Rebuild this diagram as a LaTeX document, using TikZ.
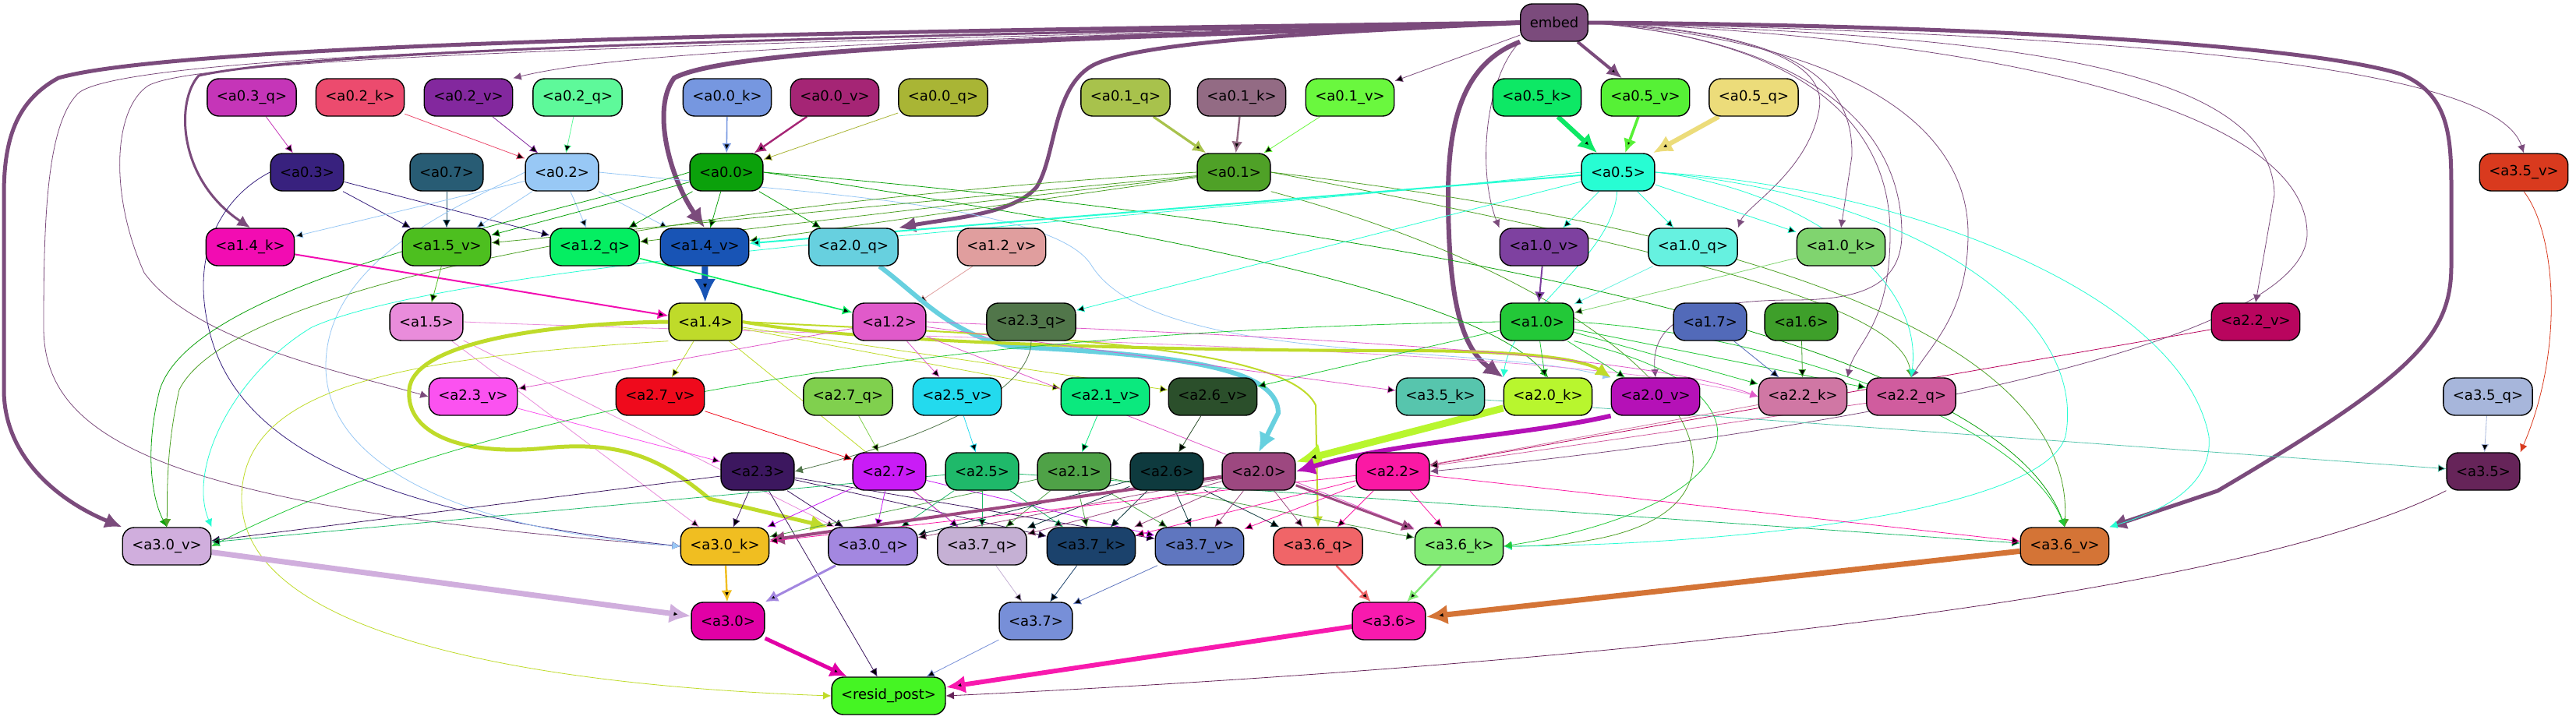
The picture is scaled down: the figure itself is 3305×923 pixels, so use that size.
\documentclass[tikz,border=0pt]{standalone}
\usepackage{fontspec}
\setmainfont{DejaVu Sans}
\usetikzlibrary{arrows.meta}
\pgfdeclarelayer{edges}
\pgfsetlayers{edges,main}
\definecolor{cembed}{HTML}{7B4B7C}
\definecolor{ca03q}{HTML}{C535B8}\definecolor{ca02k}{HTML}{EC4B6E}\definecolor{ca02v}{HTML}{83289E}
\definecolor{ca02q}{HTML}{5EF99A}\definecolor{ca00k}{HTML}{7697E0}\definecolor{ca00v}{HTML}{A52575}
\definecolor{ca00q}{HTML}{A9B535}\definecolor{ca01q}{HTML}{A8C24C}\definecolor{ca01k}{HTML}{936B84}
\definecolor{ca01v}{HTML}{6AF83E}\definecolor{ca05k}{HTML}{0DE865}\definecolor{ca05v}{HTML}{56F136}
\definecolor{ca05q}{HTML}{ECDC7A}\definecolor{ca35v}{HTML}{D93A1E}
\definecolor{ca03}{HTML}{38217E}\definecolor{ca07}{HTML}{285C74}\definecolor{ca02}{HTML}{98C8F5}
\definecolor{ca00}{HTML}{0BA10B}\definecolor{ca01}{HTML}{4FA127}\definecolor{ca05}{HTML}{27FDD3}
\definecolor{ca14k}{HTML}{F20CB2}\definecolor{ca15v}{HTML}{4DBF1F}\definecolor{ca12q}{HTML}{05EE62}
\definecolor{ca14v}{HTML}{1854B5}\definecolor{ca20q}{HTML}{67D0DF}\definecolor{ca12v}{HTML}{E09E9E}
\definecolor{ca10v}{HTML}{7E41A0}\definecolor{ca10q}{HTML}{66F1E0}\definecolor{ca10k}{HTML}{80D46F}
\definecolor{ca15}{HTML}{E98CDB}\definecolor{ca14}{HTML}{BFDB2A}\definecolor{ca12}{HTML}{E05ACA}
\definecolor{ca23q}{HTML}{51764A}\definecolor{ca10}{HTML}{23C838}\definecolor{ca17}{HTML}{526AB9}
\definecolor{ca16}{HTML}{3E9F2A}\definecolor{ca22v}{HTML}{B9055E}
\definecolor{ca23v}{HTML}{FB52F0}\definecolor{ca27v}{HTML}{EF0A1C}\definecolor{ca27q}{HTML}{80D04E}
\definecolor{ca25v}{HTML}{23DAEE}\definecolor{ca21v}{HTML}{0BE97E}\definecolor{ca26v}{HTML}{2B4F2B}
\definecolor{ca35k}{HTML}{57C5AD}\definecolor{ca20k}{HTML}{B8F62E}\definecolor{ca20v}{HTML}{B511B7}
\definecolor{ca22k}{HTML}{D077A4}\definecolor{ca22q}{HTML}{D05C9E}\definecolor{ca35q}{HTML}{A7B6DB}
\definecolor{ca23}{HTML}{3C175F}\definecolor{ca27}{HTML}{C91CF6}\definecolor{ca25}{HTML}{1FB96A}
\definecolor{ca21}{HTML}{4FA247}\definecolor{ca26}{HTML}{0E3A3E}\definecolor{ca20}{HTML}{9D4880}
\definecolor{ca22}{HTML}{FA19A4}\definecolor{ca35}{HTML}{662459}
\definecolor{ca30v}{HTML}{D0AEDD}\definecolor{ca30k}{HTML}{F0BE21}\definecolor{ca30q}{HTML}{A387E0}
\definecolor{ca37q}{HTML}{C5B0D4}\definecolor{ca37k}{HTML}{1B426C}\definecolor{ca37v}{HTML}{5F76BF}
\definecolor{ca36q}{HTML}{F06568}\definecolor{ca36k}{HTML}{83EB75}\definecolor{ca36v}{HTML}{D47436}
\definecolor{ca30}{HTML}{E100A6}\definecolor{ca37}{HTML}{778FD8}\definecolor{ca36}{HTML}{F81AAE}
\definecolor{cresid}{HTML}{45F523}
\tikzset{nd/.style = {draw=black, fill=#1, rounded corners=7.5pt, minimum height=24pt, inner xsep=6pt, line width=0.7pt, font=\fontsize{9}{11}\selectfont}}

\begin{document}
\begin{tikzpicture}[x=0.5pt, y=-0.5pt, >={Latex[length=4pt 2.8, width=4pt 2.5]}, line width=0.6pt]
  \useasboundingbox (0,0) rectangle (3305,923);

  % layer 0
  \node [nd=cembed] (embed) at (1994,29) {embed};
  \node [nd=ca03q] (a03q) at (323,125) {<a0.3\_q>};
  \node [nd=ca02k] (a02k) at (462,125) {<a0.2\_k>};
  \node [nd=ca02v] (a02v) at (601,125) {<a0.2\_v>};
  \node [nd=ca02q] (a02q) at (741,125) {<a0.2\_q>};
  \node [nd=ca00k] (a00k) at (933,125) {<a0.0\_k>};
  \node [nd=ca00v] (a00v) at (1071,125) {<a0.0\_v>};
  \node [nd=ca00q] (a00q) at (1210,125) {<a0.0\_q>};
  \node [nd=ca01q] (a01q) at (1444,125) {<a0.1\_q>};
  \node [nd=ca01k] (a01k) at (1593,125) {<a0.1\_k>};
  \node [nd=ca01v] (a01v) at (1732,125) {<a0.1\_v>};
  \node [nd=ca05k] (a05k) at (1972,125) {<a0.5\_k>};
  \node [nd=ca05v] (a05v) at (2111,125) {<a0.5\_v>};
  \node [nd=ca05q] (a05q) at (2250,125) {<a0.5\_q>};
  \node [nd=ca03] (a03) at (394,221) {<a0.3>};
  \node [nd=ca07] (a07) at (573,221) {<a0.7>};
  \node [nd=ca02] (a02) at (721,221) {<a0.2>};
  \node [nd=ca00] (a00) at (932,221) {<a0.0>};
  \node [nd=ca01] (a01) at (1583,221) {<a0.1>};
  \node [nd=ca05] (a05) at (2076,221) {<a0.5>};
  \node [nd=ca35v] (a35v) at (3238,221) {<a3.5\_v>};

  % layer 1
  \node [nd=ca14k] (a14k) at (321,317) {<a1.4\_k>};
  \node [nd=ca15v] (a15v) at (573,317) {<a1.5\_v>};
  \node [nd=ca12q] (a12q) at (763,317) {<a1.2\_q>};
  \node [nd=ca14v] (a14v) at (904,317) {<a1.4\_v>};
  \node [nd=ca20q] (a20q) at (1095,317) {<a2.0\_q>};
  \node [nd=ca12v] (a12v) at (1285,317) {<a1.2\_v>};
  \node [nd=ca10v] (a10v) at (1981,317) {<a1.0\_v>};
  \node [nd=ca10q] (a10q) at (2172,317) {<a1.0\_q>};
  \node [nd=ca10k] (a10k) at (2362,317) {<a1.0\_k>};
  \node [nd=ca15] (a15) at (547,413) {<a1.5>};
  \node [nd=ca14] (a14) at (905,413) {<a1.4>};
  \node [nd=ca12] (a12) at (1141,413) {<a1.2>};
  \node [nd=ca23q] (a23q) at (1323,413) {<a2.3\_q>};
  \node [nd=ca10] (a10) at (1972,413) {<a1.0>};
  \node [nd=ca17] (a17) at (2194,413) {<a1.7>};
  \node [nd=ca16] (a16) at (2311,413) {<a1.6>};
  \node [nd=ca22v] (a22v) at (2894,413) {<a2.2\_v>};

  % layer 2
  \node [nd=ca23v] (a23v) at (607,509) {<a2.3\_v>};
  \node [nd=ca27v] (a27v) at (847,509) {<a2.7\_v>};
  \node [nd=ca27q] (a27q) at (1088,509) {<a2.7\_q>};
  \node [nd=ca25v] (a25v) at (1228,509) {<a2.5\_v>};
  \node [nd=ca21v] (a21v) at (1418,509) {<a2.1\_v>};
  \node [nd=ca26v] (a26v) at (1556,509) {<a2.6\_v>};
  \node [nd=ca35k] (a35k) at (1848,509) {<a3.5\_k>};
  \node [nd=ca20k] (a20k) at (1986,509) {<a2.0\_k>};
  \node [nd=ca20v] (a20v) at (2124,509) {<a2.0\_v>};
  \node [nd=ca22k] (a22k) at (2313,509) {<a2.2\_k>};
  \node [nd=ca22q] (a22q) at (2452,509) {<a2.2\_q>};
  \node [nd=ca35q] (a35q) at (3192,509) {<a3.5\_q>};
  \node [nd=ca23] (a23) at (972,605) {<a2.3>};
  \node [nd=ca27] (a27) at (1141,605) {<a2.7>};
  \node [nd=ca25] (a25) at (1260,605) {<a2.5>};
  \node [nd=ca21] (a21) at (1378,605) {<a2.1>};
  \node [nd=ca26] (a26) at (1497,605) {<a2.6>};
  \node [nd=ca20] (a20) at (1615,605) {<a2.0>};
  \node [nd=ca22] (a22) at (1787,605) {<a2.2>};
  \node [nd=ca35] (a35) at (3186,605) {<a3.5>};

  % layer 3
  \node [nd=ca30v] (a30v) at (214,701) {<a3.0\_v>};
  \node [nd=ca30k] (a30k) at (930,701) {<a3.0\_k>};
  \node [nd=ca30q] (a30q) at (1120,701) {<a3.0\_q>};
  \node [nd=ca37q] (a37q) at (1260,701) {<a3.7\_q>};
  \node [nd=ca37k] (a37k) at (1400,701) {<a3.7\_k>};
  \node [nd=ca37v] (a37v) at (1539,701) {<a3.7\_v>};
  \node [nd=ca36q] (a36q) at (1691,701) {<a3.6\_q>};
  \node [nd=ca36k] (a36k) at (1872,701) {<a3.6\_k>};
  \node [nd=ca36v] (a36v) at (2649,701) {<a3.6\_v>};
  \node [nd=ca30] (a30) at (934,797) {<a3.0>};
  \node [nd=ca37] (a37) at (1329,797) {<a3.7>};
  \node [nd=ca36] (a36) at (1782,797) {<a3.6>};
  \node [nd=cresid] (resid) at (1140,893) {<resid\_post>};

  \begin{pgfonlayer}{edges}
  \fill[white] (0,0) rectangle (3305,923);

  % embed
  \draw[->, cembed, line width=2.5pt] (embed.west) .. controls (1300,38) and (250,50) .. (75,100) .. controls (20,130) and (5,180) .. (5,250) -- (5,500) .. controls (5,590) and (80,645) .. (a30v.north west);
  \draw[->, cembed, line width=1.5pt] (embed.west) .. controls (1200,45) and (420,60) .. (255,97) .. controls (225,130) and (228,230) .. (a14k.north);
  \draw[->, cembed, line width=3pt] (embed.west) .. controls (1500,48) and (950,55) .. (865,100) .. controls (835,140) and (860,230) .. (a14v.north);
  \draw[->, cembed, line width=2.5pt] (embed.west) .. controls (1750,40) and (1460,50) .. (1400,85) .. controls (1350,115) and (1355,200) .. (1330,240) .. controls (1300,275) and (1220,280) .. (a20q.north east);
  \draw[->, cembed, line width=3pt] (embed.south west) .. controls (1880,80) and (1858,150) .. (1858,250) .. controls (1858,400) and (1880,450) .. (a20k.north west);
  \draw[->, cembed, line width=2.5pt] (embed.east) .. controls (2500,32) and (2950,55) .. (3080,95) .. controls (3140,120) and (3145,170) .. (3145,240) -- (3145,340) .. controls (3145,430) and (3100,480) .. (2845,630) -- (a36v.north east);
  \path[->, draw=cembed, line width=2pt] (embed) edge (a05v);
  \path[->, draw=cembed] (embed) edge (a01v);
  \draw[->, cembed] (embed.west) .. controls (1200,50) and (800,65) .. (a02v.north east);
  \draw[->, cembed] (embed.south west) .. controls (1905,100) and (1895,220) .. (a10v.north west);
  \draw[->, cembed] (embed.east) .. controls (2250,40) and (2345,80) .. (2334,140) .. controls (2320,220) and (2240,265) .. (a10q.north east);
  \draw[->, cembed] (embed.east) .. controls (2300,40) and (2378,100) .. (2376,200) -- (a10k.north);
  \draw[->, cembed] (embed.east) .. controls (2700,45) and (3200,80) .. (a35v.north);
  \draw[->, cembed] (embed.east) .. controls (2500,45) and (2915,70) .. (2918,250) -- (a22v.north);
  \draw[->, cembed] (embed.east) .. controls (2300,50) and (2425,150) .. (2425,300) .. controls (2425,420) and (2380,440) .. (a22k.north east);
  \draw[->, cembed] (embed.east) .. controls (2350,50) and (2525,150) .. (2525,300) .. controls (2525,400) and (2480,440) .. (a22q.north);
  \draw[->, cembed] (embed.east) .. controls (2300,50) and (2440,150) .. (2440,300) .. controls (2440,370) and (2380,385) .. (2300,385) .. controls (2160,385) and (2118,420) .. (a20v.north);
  \draw[->, cembed] (embed.west) .. controls (1000,50) and (160,65) .. (100,120) .. controls (60,160) and (56,280) .. (56,420) .. controls (56,560) and (200,650) .. (a30k.west);
  \draw[->, cembed] (embed.west) .. controls (1000,55) and (260,70) .. (190,110) .. controls (145,140) and (140,250) .. (185,350) .. controls (250,440) and (450,480) .. (a23v.west);
  \draw[->, cembed] (embed.east) .. controls (2600,50) and (2960,150) .. (2960,300) .. controls (2960,450) and (2300,560) .. (a22.east);

  % layer 0 heads
  \path[->, draw=ca03q] (a03q) edge (a03);
  \path[->, draw=ca02k] (a02k) edge (a02);
  \path[->, draw=ca02v] (a02v) edge (a02);
  \path[->, draw=ca02q] (a02q) edge (a02);
  \path[->, draw=ca00k, line width=0.8pt] (a00k) edge (a00);
  \path[->, draw=ca00v, line width=1.2pt] (a00v) edge (a00);
  \path[->, draw=ca00q] (a00q) edge (a00);
  \path[->, draw=ca01q, line width=1.6pt] (a01q) edge (a01);
  \path[->, draw=ca01k, line width=1.2pt] (a01k) edge (a01);
  \path[->, draw=ca01v] (a01v) edge (a01);
  \path[->, draw=ca05k, line width=3pt] (a05k) edge (a05);
  \path[->, draw=ca05v, line width=1.8pt] (a05v) edge (a05);
  \path[->, draw=ca05q, line width=3pt] (a05q) edge (a05);
  \draw[->, ca35v] (a35v.south) .. controls (3280,300) and (3290,450) .. (a35.north east);

  \path[->, draw=ca07] (a07) edge (a15v);
  \path[->, draw=ca03] (a03) edge (a15v) edge (a12q);
  \draw[->, ca03] (a03.west) .. controls (290,250) and (240,320) .. (270,430) .. controls (310,580) and (500,660) .. (a30k.west);
  \path[->, draw=ca02] (a02) edge (a14k) edge (a15v) edge (a12q) edge (a14v);
  \draw[->, ca02] (a02.west) .. controls (600,260) and (418,330) .. (418,470) .. controls (418,600) and (600,680) .. (a30k.west);
  \draw[->, ca02] (a02.east) .. controls (1000,245) and (1350,260) .. (1400,340) .. controls (1480,470) and (1900,440) .. (a20v.north west);
  \path[->, draw=ca00] (a00) edge (a14v) edge (a15v) edge (a12q) edge (a20q);
  \draw[->, ca00] (a00.west) .. controls (700,280) and (250,360) .. (205,500) .. controls (185,580) and (195,640) .. (a30v.north);
  \draw[->, ca00] (a00.east) .. controls (1500,300) and (1900,380) .. (a20k.north);
  \draw[->, ca00] (a00.east) .. controls (1700,280) and (2560,420) .. (a36v.north);
  \path[->, draw=ca01] (a01) edge (a15v) edge (a12q) edge (a14v);
  \draw[->, ca01] (a01.west) .. controls (900,260) and (300,360) .. (230,500) .. controls (212,580) and (215,640) .. (a30v.north);
  \draw[->, ca01] (a01.east) .. controls (2200,330) and (2440,400) .. (a22q.north);
  \draw[->, ca01] (a01.east) .. controls (2300,300) and (2660,450) .. (a36v.north);
  \draw[->, ca01] (a01.south east) .. controls (2200,400) and (2350,700) .. (a36k.east);
  \path[->, draw=ca05] (a05) edge[line width=1pt] (a14v) edge (a10v) edge (a10q) edge (a10k) edge (a23q);
  \draw[->, ca05] (a05.west) .. controls (1500,280) and (600,330) .. (400,420) .. controls (300,480) and (240,600) .. (a30v.north east);
  \draw[->, ca05] (a05) .. controls (2070,330) and (1940,400) .. (a20k.north west);
  \draw[->, ca05] (a05.east) .. controls (2300,240) and (2470,350) .. (a22q.north);
  \draw[->, ca05] (a05.east) .. controls (2450,240) and (2800,380) .. (2834,560) .. controls (2840,630) and (2760,660) .. (a36v.north east);
  \draw[->, ca05] (a05.east) .. controls (2450,250) and (2680,400) .. (2650,560) .. controls (2620,660) and (2200,700) .. (a36k.east);

  % layer 1
  \path[->, draw=ca14k, line width=1pt] (a14k) edge (a14);
  \path[->, draw=ca14v, line width=4pt] (a14v) edge (a14);
  \path[->, draw=ca15v] (a15v) edge (a15);
  \path[->, draw=ca12q, line width=0.8pt] (a12q) edge (a12);
  \path[->, draw=ca12v] (a12v) edge (a12);
  \path[->, draw=ca10v, line width=1pt] (a10v) edge (a10);
  \path[->, draw=ca10q] (a10q) edge (a10);
  \path[->, draw=ca10k] (a10k) edge (a10);
  \draw[->, ca20q, line width=3pt] (a20q) .. controls (1180,380) and (1220,430) .. (1300,445) .. controls (1500,455) and (1640,470) .. (1640,530) -- (a20.north);
  \path[->, draw=ca15] (a15) edge (a30k) edge (a30q);
  \draw[->, ca15] (a15.east) .. controls (1000,430) and (2000,440) .. (a22k.west);
  \draw[->, ca14, line width=2.5pt] (a14.west) .. controls (700,415) and (530,440) .. (525,500) .. controls (520,560) and (600,585) .. (700,575) .. controls (800,565) and (850,590) .. (910,640) -- (a30q.north west);
  \draw[->, ca14, line width=2pt] (a14.east) .. controls (1100,440) and (1500,450) .. (1800,450) .. controls (1950,450) and (2030,460) .. (a20v.north west);
  \draw[->, ca14, line width=1pt] (a14.east) .. controls (1300,430) and (1650,440) .. (1688,520) -- (a36q.north);
  \path[->, draw=ca14] (a14) edge (a27v) edge (a21v) edge (a26v) edge (a37q);
  \draw[->, ca14] (a14.south west) .. controls (500,460) and (310,500) .. (310,640) .. controls (310,820) and (700,880) .. (resid.west);
  \path[->, draw=ca12] (a12) edge (a23v) edge (a25v) edge (a35k) edge (a36k);
  \draw[->, ca12] (a12.east) .. controls (1600,430) and (2100,450) .. (a22k.west);
  \draw[->, ca23q] (a23q.south) .. controls (1323,500) and (1200,560) .. (a23.east);
  \path[->, draw=ca10] (a10) edge (a20k) edge (a20v) edge (a22k) edge (a22q) edge (a26v);
  \draw[->, ca10] (a10.west) .. controls (1400,420) and (700,480) .. (a30v.east);
  \draw[->, ca10] (a10.south east) .. controls (2300,500) and (2250,650) .. (a36k.east);
  \draw[->, ca10] (a10.east) .. controls (2300,430) and (2600,550) .. (a36v.north);
  \path[->, draw=ca17] (a17) edge (a22k);
  \path[->, draw=ca16] (a16) edge (a22k);
  \path[->, draw=ca22v] (a22v) edge (a22);

  % layer 2
  \path[->, draw=ca23v] (a23v) edge (a23);
  \path[->, draw=ca27v] (a27v) edge (a27);
  \path[->, draw=ca27q] (a27q) edge (a27);
  \path[->, draw=ca25v] (a25v) edge (a25);
  \path[->, draw=ca21v] (a21v) edge (a21);
  \path[->, draw=ca26v] (a26v) edge (a26);
  \path[->, draw=ca35k] (a35k) edge (a35);
  \path[->, draw=ca20k, line width=4.5pt] (a20k) edge (a20);
  \draw[->, ca20v, line width=3pt] (a20v.south west) .. controls (1950,560) and (1800,565) .. (a20.east);
  \path[->, draw=ca22k] (a22k) edge (a22);
  \path[->, draw=ca22q] (a22q) edge (a22);
  \path[->, draw=ca35q] (a35q) edge (a35);
  \path[->, draw=ca23] (a23) edge (a30v) edge (a30k) edge (a30q) edge (a37k) edge (a37v) edge (resid);
  \path[->, draw=ca27] (a27) edge (a30k) edge (a30q) edge (a37q) edge (a37v);
  \path[->, draw=ca25] (a25) edge (a30v) edge (a37q) edge (a37k) edge (a36v) edge (a30q);
  \path[->, draw=ca21] (a21) edge (a30k) edge (a37q) edge (a37k) edge (a37v) edge (a36k);
  \path[->, draw=ca26] (a26) edge (a30q) edge (a37q) edge (a37k) edge (a37v) edge (a36q);
  \path[->, draw=ca20] (a20) edge[line width=2pt] (a30k) edge (a30q) edge (a37q) edge (a37k) edge (a37v) edge (a36q) edge[line width=1.5pt] (a36k);
  \path[->, draw=ca22] (a22) edge (a30k) edge (a37k) edge (a37v) edge (a36q) edge (a36k) edge (a36v);

  % layer 3
  \path[->, draw=ca30v, line width=3.5pt] (a30v) edge (a30);
  \path[->, draw=ca30k, line width=1.2pt] (a30k) edge (a30);
  \path[->, draw=ca30q, line width=1.5pt] (a30q) edge (a30);
  \path[->, draw=ca37q] (a37q) edge (a37);
  \path[->, draw=ca37k] (a37k) edge (a37);
  \path[->, draw=ca37v] (a37v) edge (a37);
  \path[->, draw=ca36q, line width=1.2pt] (a36q) edge (a36);
  \path[->, draw=ca36k, line width=1.2pt] (a36k) edge (a36);
  \path[->, draw=ca36v, line width=3.5pt] (a36v) edge (a36);
  \path[->, draw=ca30, line width=2.5pt] (a30) edge (resid);
  \path[->, draw=ca37] (a37) edge (resid);
  \path[->, draw=ca36, line width=3pt] (a36) edge (resid);
  \draw[->, ca35] (a35.south west) .. controls (2800,800) and (1700,870) .. (resid.east);
  \end{pgfonlayer}
\end{tikzpicture}
\end{document}
